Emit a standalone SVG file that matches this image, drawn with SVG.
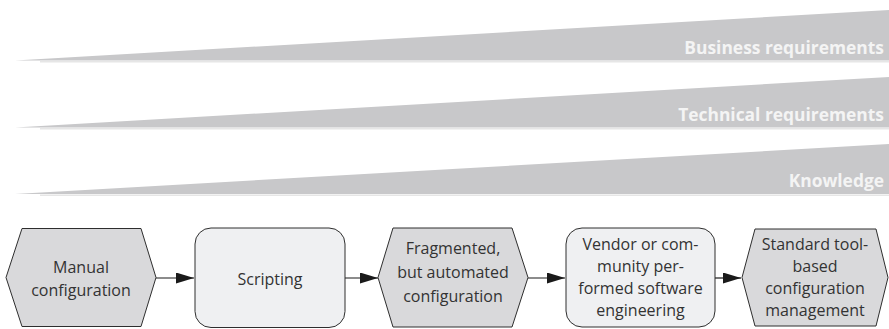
<svg xmlns="http://www.w3.org/2000/svg" width="889" height="329" viewBox="0 0 889 329">
  <defs>
    <marker id="arrow" viewBox="0 0 18 11" refX="18" refY="5.5" markerWidth="18" markerHeight="11" markerUnits="userSpaceOnUse" orient="auto">
      <path d="M0,0 L18,5.5 L0,11 Z" fill="#1a1a1a"/>
    </marker>
  </defs>
  <style>
    .wedge { fill: #c8c8ca; }
    .rim { stroke: #e6e6e6; stroke-width: 1.5; }
    .band-label { font-family: "Open Sans", Lato, sans-serif; font-weight: bold; font-size: 17.4px; fill: #f4f4f4; text-anchor: end; }
    .hex { fill: #d9d9db; stroke: #2e2e2e; stroke-width: 1; }
    .box { fill: #eff0f2; stroke: #2e2e2e; stroke-width: 1; }
    .label { font-family: "Open Sans", Lato, sans-serif; font-size: 16px; fill: #333333; text-anchor: middle; }
    .link { stroke: #1a1a1a; stroke-width: 1.2; fill: none; marker-end: url(#arrow); }
  </style>

  <!-- rising bands -->
  <g id="band-business">
    <polygon class="wedge" points="15,60.5 889,10 889,60.5"/>
    <line class="rim" x1="40" y1="61.8" x2="889" y2="61.8"/>
    <text class="band-label" x="884" y="53.5">Business requirements</text>
  </g>
  <g id="band-technical">
    <polygon class="wedge" points="15,127.5 889,77 889,127.5"/>
    <line class="rim" x1="40" y1="128.8" x2="889" y2="128.8"/>
    <text class="band-label" x="884" y="120.5">Technical requirements</text>
  </g>
  <g id="band-knowledge">
    <polygon class="wedge" points="15,194 889,144 889,194"/>
    <line class="rim" x1="40" y1="195.3" x2="889" y2="195.3"/>
    <text class="band-label" x="884" y="186.5">Knowledge</text>
  </g>

  <!-- connectors -->
  <g id="connectors">
    <line class="link" x1="156" y1="278" x2="194" y2="278"/>
    <line class="link" x1="345" y1="278" x2="378" y2="278"/>
    <line class="link" x1="528" y1="278" x2="565" y2="278"/>
    <line class="link" x1="715" y1="278" x2="741" y2="278"/>
  </g>

  <!-- stages -->
  <g id="manual-configuration">
    <polygon class="hex" points="6,277.5 22,228.5 141,228.5 156,277.5 141,326.5 22,326.5"/>
    <text class="label" x="81" y="273">Manual</text>
    <text class="label" x="81" y="296">configuration</text>
  </g>
  <g id="scripting">
    <rect class="box" x="195" y="228" width="150" height="99.5" rx="16" ry="16"/>
    <text class="label" x="270" y="284.5">Scripting</text>
  </g>
  <g id="fragmented-automated">
    <polygon class="hex" points="378,277.5 393,228 512,228 528,277.5 512,327 393,327"/>
    <text class="label" x="453" y="254">Fragmented,</text>
    <text class="label" x="453" y="278">but automated</text>
    <text class="label" x="453" y="302">configuration</text>
  </g>
  <g id="vendor-engineering">
    <rect class="box" x="566" y="228" width="149" height="99" rx="16" ry="16"/>
    <text class="label" x="640.5" y="250">Vendor or com-</text>
    <text class="label" x="640.5" y="272">munity per-</text>
    <text class="label" x="640.5" y="294">formed software</text>
    <text class="label" x="640.5" y="316">engineering</text>
  </g>
  <g id="standard-tooling">
    <polygon class="hex" points="742,277.5 755,229 876,229 888,277.5 876,326 755,326"/>
    <text class="label" x="815" y="250">Standard tool-</text>
    <text class="label" x="815" y="272">based</text>
    <text class="label" x="815" y="294">configuration</text>
    <text class="label" x="815" y="316">management</text>
  </g>
</svg>
